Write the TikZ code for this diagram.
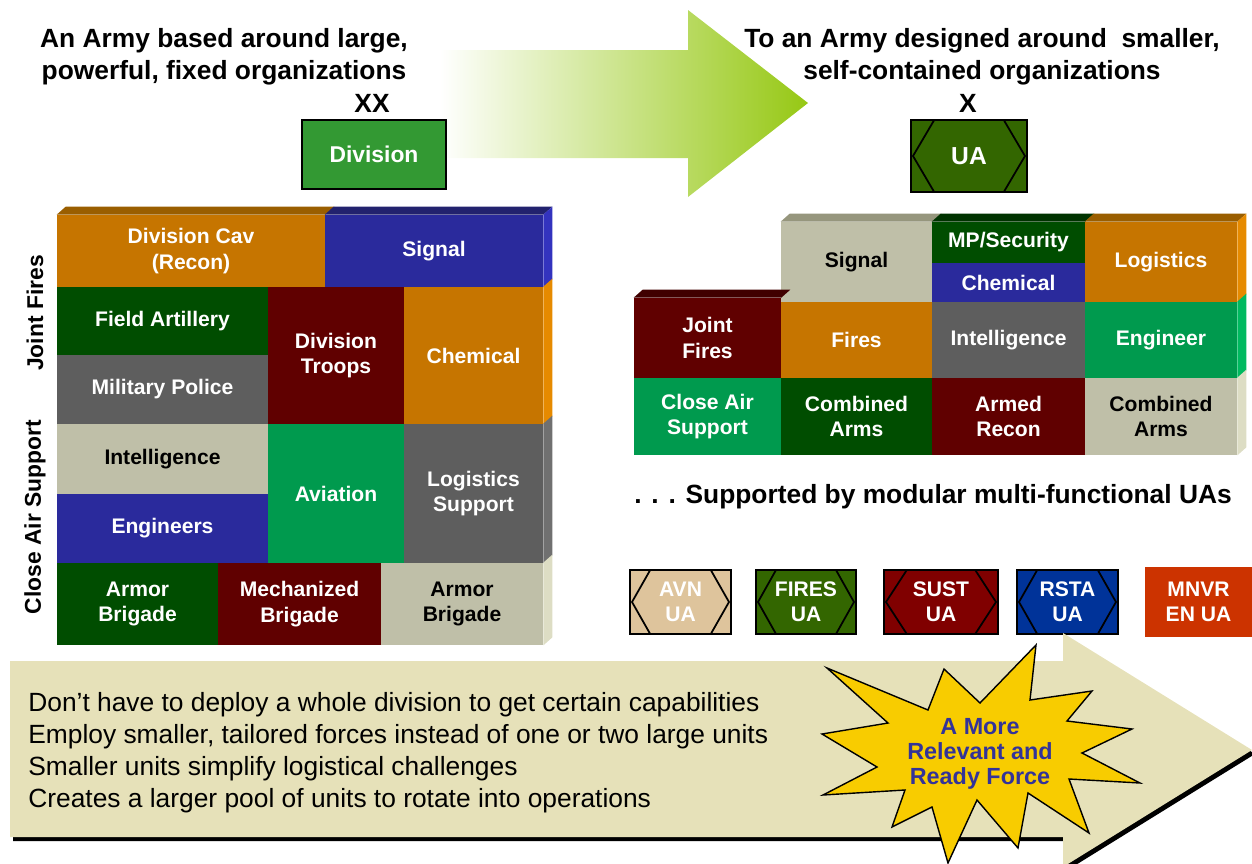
\documentclass[tikz,border=0pt]{standalone}
\usepackage{fontspec}
\setmainfont{Liberation Sans}
\usetikzlibrary{calc,positioning}
\definecolor{corange}{RGB}{198,117,0}
\definecolor{corangetop}{RGB}{154,94,0}
\definecolor{corangeside}{RGB}{230,138,0}
\definecolor{cblue}{RGB}{42,42,156}
\definecolor{cbluetop}{RGB}{34,34,110}
\definecolor{cblueside}{RGB}{51,51,190}
\definecolor{cdkgreen}{RGB}{0,77,0}
\definecolor{cdkgreentop}{RGB}{0,51,0}
\definecolor{cgray}{RGB}{94,94,94}
\definecolor{cgrayside}{RGB}{112,112,112}
\definecolor{cmaroon}{RGB}{96,0,0}
\definecolor{cmaroontop}{RGB}{64,0,0}
\definecolor{ctan}{RGB}{191,191,168}
\definecolor{ctantop}{RGB}{150,150,125}
\definecolor{ctanside}{RGB}{221,221,196}
\definecolor{cgreen}{RGB}{0,154,78}
\definecolor{cgreenside}{RGB}{0,185,95}
\definecolor{cdiv}{RGB}{51,153,51}
\definecolor{cua}{RGB}{51,102,0}
\definecolor{cavn}{RGB}{222,196,156}
\definecolor{csust}{RGB}{128,0,0}
\definecolor{crsta}{RGB}{0,51,153}
\definecolor{cmnvr}{RGB}{204,51,0}
\definecolor{carrow}{RGB}{150,200,20}
\definecolor{cpanel}{RGB}{230,225,185}
\definecolor{cstar}{RGB}{248,204,0}
\definecolor{cstartext}{RGB}{51,51,153}
\tikzstyle{blk}=[rectangle,inner sep=0pt,text=white,align=center,font=\fontsize{12}{14.7}\selectfont\bfseries]
\tikzstyle{blkd}=[blk,text=black]
\tikzstyle{head}=[align=center,font=\fontsize{15}{18.2}\selectfont\bfseries]
\tikzstyle{sidelabel}=[rotate=90,font=\fontsize{13}{15}\selectfont\bfseries]
\tikzstyle{hexbox}=[rectangle,draw=black,line width=1.2pt,inner sep=0pt,text=white,align=center,
  path picture={\draw[line width=1pt] ($(path picture bounding box.west)+(2,0)$)
    -- ($(path picture bounding box.north west)!0.2!(path picture bounding box.north east)$)
    -- ($(path picture bounding box.north west)!0.8!(path picture bounding box.north east)$)
    -- ($(path picture bounding box.east)+(-2,0)$)
    -- ($(path picture bounding box.south west)!0.8!(path picture bounding box.south east)$)
    -- ($(path picture bounding box.south west)!0.2!(path picture bounding box.south east)$) -- cycle;}]
\tikzstyle{uabox}=[hexbox,minimum height=1.28cm,font=\fontsize{12}{14.2}\selectfont\bfseries]

\begin{document}
\begin{tikzpicture}[x=0.02cm,y=-0.02cm]
\useasboundingbox (0,0) rectangle (1252,863);

% headings
\node[head] (old) at (224,57) {An Army based around large,\\powerful, fixed organizations};
\node[head] (new) at (982,57) {To an Army designed around\ \ smaller,\\self-contained organizations};
\shade[left color=white,right color=carrow] (440,50) -- (688,50) -- (688,10) -- (808,103) -- (688,197) -- (688,158) -- (440,158) -- cycle;
\node[head] (xx) at (372,103) {XX};
\node[head] (x) at (968,103) {X};
\node[rectangle,draw=black,line width=1.2pt,fill=cdiv,inner sep=0pt,text=white,font=\fontsize{13}{15}\selectfont\bfseries,minimum width=2.88cm,minimum height=1.38cm] (div) at (374,154.5) {Division};
\node[hexbox,fill=cua,font=\fontsize{14}{16}\selectfont\bfseries,minimum width=2.32cm,minimum height=1.44cm] (ua) at (969,156) {UA};

% division
\node[blk,fill=corange,minimum width=5.36cm,minimum height=1.44cm] (cav) at (191,251) {Division Cav\\(Recon)};
\node[blk,fill=cblue,minimum width=4.36cm,minimum height=1.44cm] (sig) at (434,251) {Signal};
\node[blk,fill=cdkgreen,minimum width=4.22cm,minimum height=1.36cm] (fa) at (162.5,321) {Field Artillery};
\node[blk,fill=cgray,minimum width=4.22cm,minimum height=1.38cm] (mp) at (162.5,389.5) {Military Police};
\node[blk,fill=cmaroon,minimum width=2.72cm,minimum height=2.74cm] (dt) at (336,355.5) {Division\\Troops};
\node[blk,fill=corange,minimum width=2.78cm,minimum height=2.74cm] (chem) at (473.5,355.5) {Chemical};
\node[blkd,fill=ctan,minimum width=4.22cm,minimum height=1.40cm] (intel) at (162.5,459) {Intelligence};
\node[blk,fill=cblue,minimum width=4.22cm,minimum height=1.38cm] (eng) at (162.5,528.5) {Engineers};
\node[blk,fill=cgreen,minimum width=2.72cm,minimum height=2.78cm] (avn) at (336,493.5) {Aviation};
\node[blk,fill=cgray,minimum width=2.78cm,minimum height=2.78cm] (log) at (473.5,493.5) {Logistics\\Support};
\node[blk,fill=cdkgreen,minimum width=3.22cm,minimum height=1.64cm] (arm1) at (137.5,604) {Armor\\Brigade};
\node[blk,fill=cmaroon,minimum width=3.26cm,minimum height=1.64cm] (mech) at (299.5,604) {Mechanized\\Brigade};
\node[blkd,fill=ctan,minimum width=3.24cm,minimum height=1.64cm] (arm2) at (462,604) {Armor\\Brigade};
\fill[corangetop] (cav.north west) -- ++(9,-8) -- ($(cav.north east)+(9,-8)$) -- (cav.north east) -- cycle;
\fill[cbluetop] (sig.north west) -- ++(9,-8) -- ($(sig.north east)+(9,-8)$) -- (sig.north east) -- cycle;
\fill[cblueside] (sig.north east) -- ++(9,-8) -- ($(sig.south east)+(9,-8)$) -- (sig.south east) -- cycle;
\fill[corangeside] (chem.north east) -- ++(9,-8) -- ($(chem.south east)+(9,-8)$) -- (chem.south east) -- cycle;
\fill[cgrayside] (log.north east) -- ++(9,-8) -- ($(log.south east)+(9,-8)$) -- (log.south east) -- cycle;
\fill[ctanside] (arm2.north east) -- ++(9,-8) -- ($(arm2.south east)+(9,-8)$) -- (arm2.south east) -- cycle;
\node[sidelabel] (jf) at (35,313) {Joint Fires};
\node[sidelabel] (cas) at (35,517) {Close Air Support};

% unit of action
\node[blkd,fill=ctan,minimum width=3.02cm,minimum height=1.6cm] (rsig) at (856.5,262) {Signal};
\node[blk,fill=cdkgreen,minimum width=3.06cm,minimum height=0.82cm] (rmp) at (1008.5,242.5) {MP/Security};
\node[blk,fill=cblue,minimum width=3.06cm,minimum height=0.78cm] (rchem) at (1008.5,282.5) {Chemical};
\node[blk,fill=corange,minimum width=3.04cm,minimum height=1.6cm] (rlog) at (1161,262) {Logistics};
\node[blk,fill=cmaroon,minimum width=2.94cm,minimum height=1.6cm] (rjf) at (707.5,338) {Joint\\Fires};
\node[blk,fill=corange,minimum width=3.02cm,minimum height=1.52cm] (rfires) at (856.5,340) {Fires};
\node[blk,fill=cgray,minimum width=3.06cm,minimum height=1.52cm] (rintel) at (1008.5,340) {Intelligence};
\node[blk,fill=cgreen,minimum width=3.04cm,minimum height=1.52cm] (reng) at (1161,340) {Engineer};
\node[blk,fill=cgreen,minimum width=2.94cm,minimum height=1.54cm] (rcas) at (707.5,416.5) {Close Air\\Support};
\node[blk,fill=cdkgreen,minimum width=3.02cm,minimum height=1.54cm] (rca1) at (856.5,416.5) {Combined\\Arms};
\node[blk,fill=cmaroon,minimum width=3.06cm,minimum height=1.54cm] (rrec) at (1008.5,416.5) {Armed\\Recon};
\node[blkd,fill=ctan,minimum width=3.04cm,minimum height=1.54cm] (rca2) at (1161,416.5) {Combined\\Arms};
\fill[ctantop] (rsig.north west) -- ++(9,-8) -- ($(rsig.north east)+(9,-8)$) -- (rsig.north east) -- cycle;
\fill[cdkgreentop] (rmp.north west) -- ++(9,-8) -- ($(rmp.north east)+(9,-8)$) -- (rmp.north east) -- cycle;
\fill[corangetop] (rlog.north west) -- ++(9,-8) -- ($(rlog.north east)+(9,-8)$) -- (rlog.north east) -- cycle;
\fill[cmaroontop] (rjf.north west) -- ++(9,-8) -- ($(rjf.north east)+(9,-8)$) -- (rjf.north east) -- cycle;
\fill[corangeside] (rlog.north east) -- ++(9,-8) -- ($(rlog.south east)+(9,-8)$) -- (rlog.south east) -- cycle;
\fill[cgreenside] (reng.north east) -- ++(9,-8) -- ($(reng.south east)+(9,-8)$) -- (reng.south east) -- cycle;
\fill[ctanside] (rca2.north east) -- ++(9,-8) -- ($(rca2.south east)+(9,-8)$) -- (rca2.south east) -- cycle;

\node[head,anchor=west,inner sep=0pt] (sup) at (634,497) {. . . Supported by modular multi-functional UAs};
\node[uabox,fill=cavn,minimum width=2.02cm] (avnua) at (680.5,602) {AVN\\UA};
\node[uabox,fill=cua,minimum width=2.0cm] (firesua) at (806,602) {FIRES\\UA};
\node[uabox,fill=csust,minimum width=2.28cm] (sustua) at (941,602) {SUST\\UA};
\node[uabox,fill=crsta,minimum width=2.02cm] (rstaua) at (1067.5,602) {RSTA\\UA};
\node[blk,fill=cmnvr,font=\fontsize{12}{14.2}\selectfont\bfseries,minimum width=2.14cm,minimum height=1.4cm] (mnvrua) at (1198.5,602) {MNVR\\EN UA};

% bottom arrow
\fill[black] (13,665) -- (1066,665) -- (1066,637) -- (1255,754) -- (1066,871) -- (1066,841) -- (13,841) -- cycle;
\fill[cpanel] (10,661) -- (1063,661) -- (1063,633) -- (1252,750) -- (1063,867) -- (1063,837) -- (10,837) -- cycle;
\node[anchor=west,align=left,inner sep=0pt,font=\fontsize{15}{18.2}\selectfont] (why) at (28,753) {Don’t have to deploy a whole division to get certain capabilities\\Employ smaller, tailored forces instead of one or two large units\\Smaller units simplify logistical challenges\\Creates a larger pool of units to rotate into operations};
\filldraw[fill=cstar,draw=black,line width=0.8pt] (827,668) -- (928,710) -- (944,669) -- (980,703) -- (1036,645) -- (1030,700) -- (1092,691) -- (1067,721) -- (1132,729) -- (1082,753) -- (1140,783) -- (1069,779) -- (1089,833) -- (1028,793) -- (1018,848) -- (977,800) -- (948,863) -- (932,807) -- (892,827) -- (905,790) -- (823,795) -- (877,767) -- (822,734) -- (888,723) -- cycle;
\node[align=center,text=cstartext,font=\fontsize{13.3}{14.2}\selectfont\bfseries] (ready) at (980,754) {A More\\Relevant and\\Ready Force};
\end{tikzpicture}
\end{document}
